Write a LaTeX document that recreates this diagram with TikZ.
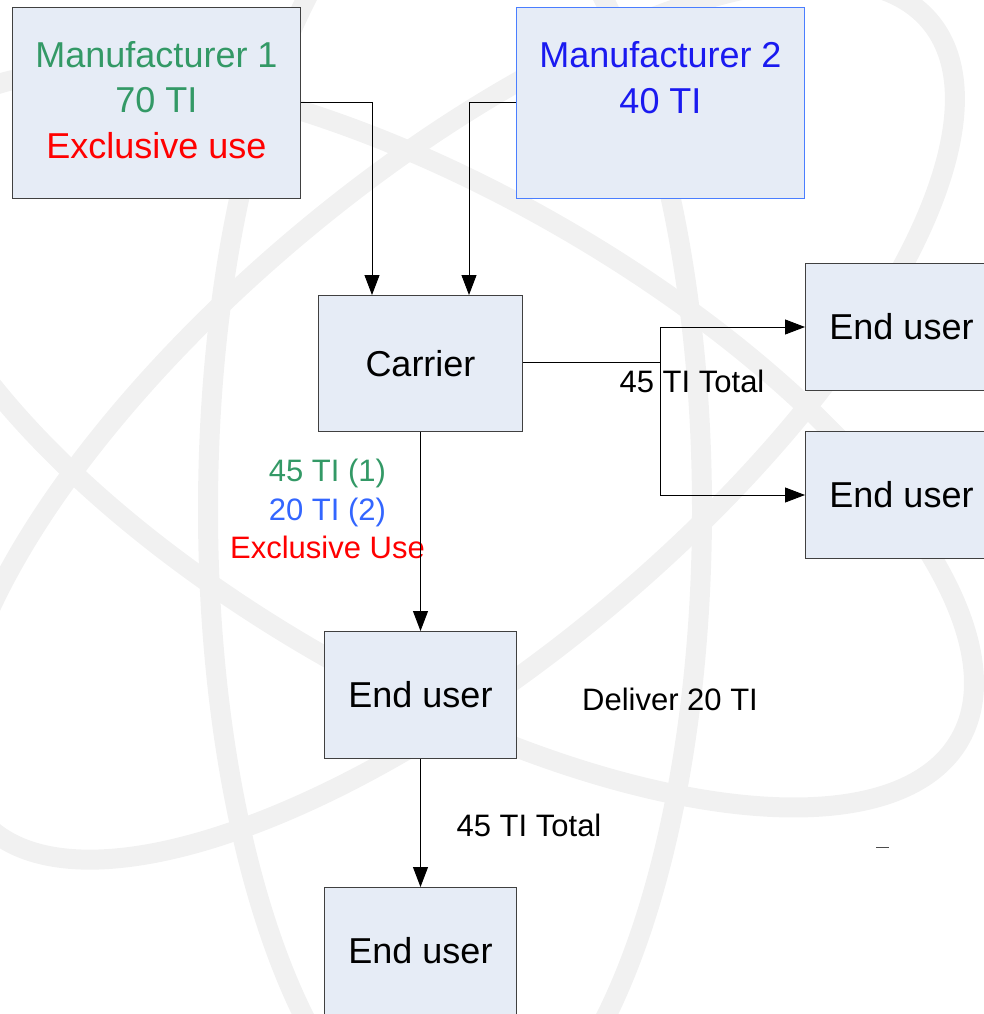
\documentclass[tikz,border=0pt]{standalone}
\usepackage{fontspec}
\setmainfont{Liberation Sans}
\usetikzlibrary{arrows.meta}
\definecolor{boxfill}{HTML}{E6ECF6}
\definecolor{boxline}{HTML}{404040}
\definecolor{mgreen}{HTML}{339966}
\definecolor{mblue}{HTML}{1A1AF0}
\definecolor{lblue}{HTML}{3366FF}
\definecolor{bblue}{HTML}{4A7EFF}
\definecolor{wm}{HTML}{F1F1F1}
\begin{document}
\begin{tikzpicture}[x=1pt,y=-1pt,
  box/.style={draw=boxline, fill=boxfill, line width=1pt, inner sep=0pt, anchor=north west, align=center},
  big/.style={font=\fontsize{36}{45.5}\selectfont},
  small/.style={font=\fontsize{31}{38.5}\selectfont},
  conn/.style={draw=black, line width=0.9pt},
  arr/.style={conn, -{Triangle[length=20pt,width=15pt]}},
  wmline/.style={draw=wm, line width=20pt}]
\useasboundingbox (0,0) rectangle (984,1014);
\clip (0,0) rectangle (984,1014);
% watermark
\draw[wmline] (455,510) ellipse [x radius=247, y radius=640];
\draw[wmline, rotate around={-30:(440,440)}] (440,440) ellipse [x radius=600, y radius=245];
\draw[wmline, rotate around={40:(455,420)}] (455,420) ellipse [x radius=620, y radius=242];
% boxes
\node[box, minimum width=288pt, minimum height=191pt] (m1) at (12,7) {};
\node[big, align=center, yshift=3pt] (m1t) at (m1.center)
  {\textcolor{mgreen}{Manufacturer 1}\\\textcolor{mgreen}{70 TI}\\\textcolor{red}{Exclusive use}};
\node[box, draw=bblue, minimum width=288pt, minimum height=191pt] (m2) at (516,7) {};
\node[big, align=center, yshift=3pt] (m2t) at (m2.center)
  {\textcolor{mblue}{Manufacturer 2}\\\textcolor{mblue}{40 TI}\\\mbox{}};
\node[box, big, minimum width=204pt, minimum height=136pt] (car) at (318,295) {\raisebox{0pt}{Carrier}};
\node[box, big, minimum width=192pt, minimum height=127pt] (eu1) at (805,263) {End user};
\node[box, big, minimum width=192pt, minimum height=127pt] (eu2) at (805,431) {End user};
\node[box, big, minimum width=192pt, minimum height=127pt] (eu3) at (324,631) {End user};
\node[box, big, minimum width=192pt, minimum height=127pt] (eu4) at (324,887) {End user};
% labels
\node[small, align=center] (lab1) at (327.5,509)
  {\textcolor{mgreen}{45 TI (1)}\\\textcolor{lblue}{20 TI (2)}\\\textcolor{red}{Exclusive Use}};
\node[small] (lab2) at (692,381) {45 TI Total};
\node[small] (lab3) at (670,699) {Deliver 20 TI};
\node[small] (lab4) at (529,825) {45 TI Total};
\coordinate (dashA) at (876,847);
\coordinate (dashB) at (889,847);
\draw[black!70, line width=1pt] (dashA) -- (dashB);
% connectors
\draw[arr] (m1.east |- 0,102) -| (car.north -| 372,0);
\draw[arr] (m2.west |- 0,102) -| (car.north -| 469,0);
\coordinate (split) at (660,362);
\draw[conn] (car.east |- split) -- (split);
\draw[arr] (split) |- (eu1.west);
\draw[arr] (split) |- (eu2.west);
\draw[arr] (car.south) -- (eu3.north);
\draw[arr] (eu3.south) -- (eu4.north);
\end{tikzpicture}
\end{document}
